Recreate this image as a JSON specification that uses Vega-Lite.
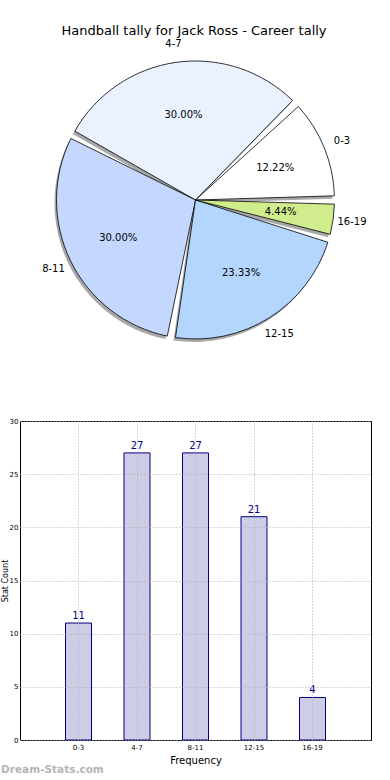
{
  "$schema": "https://vega.github.io/schema/vega-lite/v6.json",
  "padding": {"left": 0, "top": 24, "right": 0, "bottom": 0},
  "background": "white",
  "config": {"font": "DejaVu Sans", "view": {"stroke": null}},
  "title": {"text": "Handball tally for Jack Ross - Career tally", "fontSize": 13, "fontWeight": "normal", "color": "black", "anchor": "middle", "offset": 1, "dx": 8},
  "spacing": 57,
  "datasets": {
    "tally": [
      {"label": "0-3", "count": 11, "pct": "12.22%", "n": 1},
      {"label": "4-7", "count": 27, "pct": "30.00%", "n": 2},
      {"label": "8-11", "count": 27, "pct": "30.00%", "n": 3},
      {"label": "12-15", "count": 21, "pct": "23.33%", "n": 4},
      {"label": "16-19", "count": 4, "pct": "4.44%", "n": 5}
    ]
  },
  "vconcat": [
    {
      "width": 351,
      "height": 318,
      "data": {"name": "tally"},
      "view": {"stroke": null},
      "encoding": {
        "theta": {"field": "count", "type": "quantitative", "stack": true, "scale": {"range": [1.5708, -4.7124]}},
        "order": {"field": "n", "type": "quantitative"},
        "color": {
          "field": "label", "type": "nominal",
          "scale": {"domain": ["0-3", "4-7", "8-11", "12-15", "16-19"], "range": ["#ffffff", "#eaf1ff", "#c4d8ff", "#b3d6ff", "#d0ec8c"]},
          "legend": null
        }
      },
      "layer": [
        {"mark": {"type": "arc", "outerRadius": 139, "padAngle": 0.06, "xOffset": -2, "yOffset": 3, "opacity": 0.6}, "encoding": {"color": {"value": "#6e6e6e"}}},
        {"mark": {"type": "arc", "outerRadius": 139, "padAngle": 0.06, "stroke": "black", "strokeWidth": 0.8}},
        {"mark": {"type": "text", "radius": 86, "fontSize": 10}, "encoding": {"text": {"field": "pct"}, "color": {"value": "black"}}},
        {"mark": {"type": "text", "radius": 158, "fontSize": 10}, "encoding": {"text": {"field": "label"}, "color": {"value": "black"}}}
      ]
    },
    {
      "width": 351,
      "height": 319,
      "data": {"name": "tally"},
      "title": {"text": "Dream-Stats.com", "orient": "bottom", "anchor": "start", "frame": "bounds", "fontSize": 10.5, "fontWeight": "bold", "color": "#b4b4b4", "offset": 0},
      "view": {"stroke": "black", "strokeWidth": 1},
      "encoding": {
        "x": {
          "field": "label", "type": "nominal",
          "sort": ["0-3", "4-7", "8-11", "12-15", "16-19"],
          "scale": {"paddingInner": 0.556, "paddingOuter": 0.778},
          "axis": {"title": "Frequency", "labelAngle": 0, "labelFontSize": 7, "titleFontSize": 10, "titleFontWeight": "normal", "titleColor": "black", "labelColor": "black", "grid": true, "gridDash": [1, 2], "gridColor": "#b0b0b0", "ticks": false, "domain": false, "labelPadding": 3, "titlePadding": 5, "zindex": 1, "bandPosition": 0.5}
        },
        "y": {
          "field": "count", "type": "quantitative",
          "scale": {"domain": [0, 30]},
          "axis": {"values": [0, 5, 10, 15, 20, 25, 30], "title": "Stat Count", "labelFontSize": 7, "titleFontSize": 8, "titleFontWeight": "normal", "titleColor": "black", "labelColor": "black", "grid": true, "gridDash": [1, 2], "gridColor": "#b0b0b0", "ticks": false, "domain": false, "labelPadding": 2, "titlePadding": 0, "zindex": 1}
        }
      },
      "layer": [
        {"mark": {"type": "bar", "fill": "#cdcde6", "stroke": "#000080", "strokeWidth": 1}},
        {"mark": {"type": "text", "baseline": "bottom", "dy": -2, "fontSize": 10, "color": "#000080"}, "encoding": {"text": {"field": "count", "type": "quantitative"}}}
      ]
    }
  ]
}
